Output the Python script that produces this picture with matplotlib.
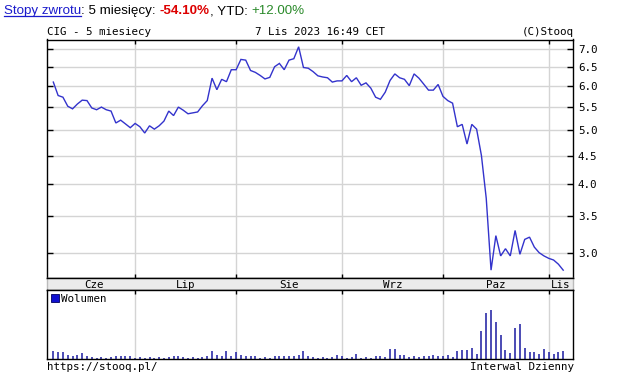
import matplotlib
matplotlib.use("Agg")
import matplotlib.pyplot as plt
from matplotlib.ticker import FixedLocator, FormatStrFormatter, NullLocator, NullFormatter
from matplotlib.lines import Line2D
from matplotlib.patches import Patch

# ---------------- data ----------------
close = [6.10, 5.77, 5.73, 5.52, 5.46, 5.57, 5.66, 5.65, 5.48, 5.44,
         5.50, 5.44, 5.41, 5.15, 5.21, 5.13, 5.05, 5.14, 5.07, 4.94,
         5.09, 5.02, 5.09, 5.19, 5.41, 5.31, 5.50, 5.43, 5.35, 5.37,
         5.39, 5.53, 5.65, 6.20, 5.91, 6.17, 6.11, 6.42, 6.42, 6.70,
         6.68, 6.40, 6.35, 6.27, 6.18, 6.22, 6.50, 6.59, 6.42, 6.68,
         6.72, 7.06, 6.48, 6.46, 6.37, 6.26, 6.23, 6.21, 6.10, 6.13,
         6.13, 6.27, 6.11, 6.21, 6.02, 6.08, 5.95, 5.73, 5.68, 5.85,
         6.14, 6.31, 6.21, 6.17, 6.01, 6.31, 6.20, 6.05, 5.90, 5.90,
         6.04, 5.75, 5.65, 5.59, 5.07, 5.12, 4.72, 5.12, 5.02, 4.50,
         3.77, 2.80, 3.23, 2.97, 3.06, 2.97, 3.30, 2.99, 3.18, 3.21,
         3.08, 3.01, 2.97, 2.94, 2.92, 2.87, 2.80]

volume = [75, 65, 65, 35, 30, 35, 55, 30, 12, 10,
          12, 10, 12, 30, 25, 30, 25, 10, 12, 10,
          12, 10, 12, 10, 12, 25, 30, 12, 10, 12,
          10, 12, 30, 75, 35, 30, 80, 30, 70, 35,
          30, 30, 25, 10, 12, 10, 25, 25, 30, 25,
          30, 35, 80, 30, 12, 10, 15, 10, 12, 35,
          25, 10, 12, 45, 10, 12, 10, 30, 30, 20,
          100, 100, 40, 40, 20, 25, 20, 25, 30, 35,
          25, 23, 37, 17, 78, 85, 88, 108, 50, 275,
          455, 488, 365, 240, 90, 57, 305, 345, 105, 62,
          67, 47, 95, 68, 42, 62, 77]

month_labels = ["Cze", "Lip", "Sie", "Wrz", "Paz", "Lis"]
month_start_idx = [0, 17, 38, 60, 81, 103]
yticks = [3.0, 3.5, 4.0, 4.5, 5.0, 5.5, 6.0, 6.5, 7.0]

idx = list(range(len(close)))

# ---------------- layout ----------------
W, H = 623, 374
fig = plt.figure(figsize=(W / 100, H / 100), dpi=100)
fig.patch.set_facecolor("white")

mono = "DejaVu Sans Mono"
mfs = 7.8
x0, x1 = 47.3, 573.3
xlim = (-1.25, 108.1)


def fx(px):
    return px / W


def fy(py):
    return 1 - py / H


def ax_at(top, bottom):
    return fig.add_axes([fx(x0), fy(bottom), fx(x1) - fx(x0), (bottom - top) / H])


ax = ax_at(39.5, 278.3)
band = ax_at(278.3, 290.3)
axv = ax_at(290.3, 358.6)

grid_c = "#d4d4d4"
line_c = "#3333cc"

# main price pane
ax.plot(idx, close, color=line_c, lw=1.0, solid_joinstyle="miter")
ax.set_yscale("log")
ax.set_ylim(2.707, 7.276)
ax.set_xlim(*xlim)
ax.yaxis.set_major_locator(FixedLocator(yticks))
ax.yaxis.set_major_formatter(FormatStrFormatter("%.1f"))
ax.yaxis.set_minor_locator(NullLocator())
ax.yaxis.set_minor_formatter(NullFormatter())
ax.xaxis.set_major_locator(FixedLocator(month_start_idx[1:]))
ax.xaxis.set_major_formatter(NullFormatter())
ax.grid(True, which="major", color=grid_c, lw=1.0)
ax.set_axisbelow(True)
ax.tick_params(axis="y", which="major", direction="in", length=4, width=1,
               left=True, right=True, labelleft=False, labelright=True,
               labelsize=mfs, pad=3.3)
ax.tick_params(axis="x", which="major", direction="in", length=3, width=1,
               top=True, bottom=True, labelbottom=False)
for lab in ax.get_yticklabels():
    lab.set_fontfamily(mono)
for s in ax.spines.values():
    s.set_color("black")
    s.set_linewidth(1.0)

# month label band
band.set_facecolor("#ebebeb")
band.set_xlim(*xlim)
band.set_ylim(0, 1)
band.set_xticks([])
band.set_yticks([])
bounds = month_start_idx + [xlim[1] * 2 - month_start_idx[-1] - 2.1]
for i, lab in enumerate(month_labels):
    if i < len(month_labels) - 1:
        c = (month_start_idx[i] + month_start_idx[i + 1]) / 2
    else:
        c = (month_start_idx[i] + xlim[1]) / 2
    band.text(c, 0.45, lab, ha="center", va="center", fontsize=mfs, family=mono)
for s in band.spines.values():
    s.set_linewidth(1.0)
band.spines["left"].set_color("#bbbbbb")
band.spines["right"].set_color("#bbbbbb")

# volume pane
axv.vlines(idx, 0, volume, color="#1a1aa0", lw=1.1)
axv.set_xlim(*xlim)
axv.set_ylim(0, 685)
axv.xaxis.set_major_locator(FixedLocator(month_start_idx[1:]))
axv.xaxis.set_major_formatter(NullFormatter())
axv.set_yticks([])
axv.grid(True, axis="x", color=grid_c, lw=1.0)
axv.set_axisbelow(True)
axv.tick_params(axis="x", direction="in", length=3, width=1, top=True, bottom=False)
for s in axv.spines.values():
    s.set_color("black")
    s.set_linewidth(1.0)
leg = axv.legend(handles=[Patch(facecolor="#1010d0", edgecolor="#000060", lw=0.6)],
                 labels=["Wolumen"], loc="upper left", frameon=False,
                 handlelength=0.75, handleheight=0.75, handletextpad=0.2,
                 borderaxespad=0.15, borderpad=0.2,
                 prop={"family": mono, "size": mfs})

# texts around
fig.text(fx(47.3), fy(31.8), "CIG - 5 miesiecy", family=mono, fontsize=mfs,
         ha="left", va="center")
fig.text(fx(255), fy(31.8), "7 Lis 2023 16:49 CET", family=mono, fontsize=mfs,
         ha="left", va="center")
fig.text(fx(573.5), fy(31.8), "(C)Stooq", family=mono, fontsize=mfs,
         ha="right", va="center")
fig.text(fx(47.3), fy(366.8), "https://stooq.pl/", family=mono, fontsize=mfs,
         ha="left", va="center")
fig.text(fx(573.5), fy(366.8), "Interwal Dzienny", family=mono, fontsize=mfs,
         ha="right", va="center")

# header line with coloured pieces
fig.canvas.draw()
renderer = fig.canvas.get_renderer()
hfont = "Liberation Sans"
hfs = 9.6
pieces = [("Stopy zwrotu", "#1a1acc", "normal"),
          (": 5 miesięcy: ", "black", "normal"),
          ("-54.10%", "#dd0000", "bold"),
          (", YTD: ", "black", "normal"),
          ("+12.00%", "#2a8a2a", "normal")]
xpos = 4.0
for k, (s, c, w) in enumerate(pieces):
    t = fig.text(fx(xpos), fy(14.2), s, family=hfont, fontsize=hfs, color=c,
                 weight=w, ha="left", va="baseline")
    bb = t.get_window_extent(renderer)
    if k == 0:
        fig.add_artist(Line2D([fx(bb.x0), fx(bb.x1)], [fy(16.0), fy(16.0)],
                              transform=fig.transFigure, color=c, lw=0.9))
    xpos = bb.x1

fig.savefig("out.png", dpi=100, facecolor="white")
